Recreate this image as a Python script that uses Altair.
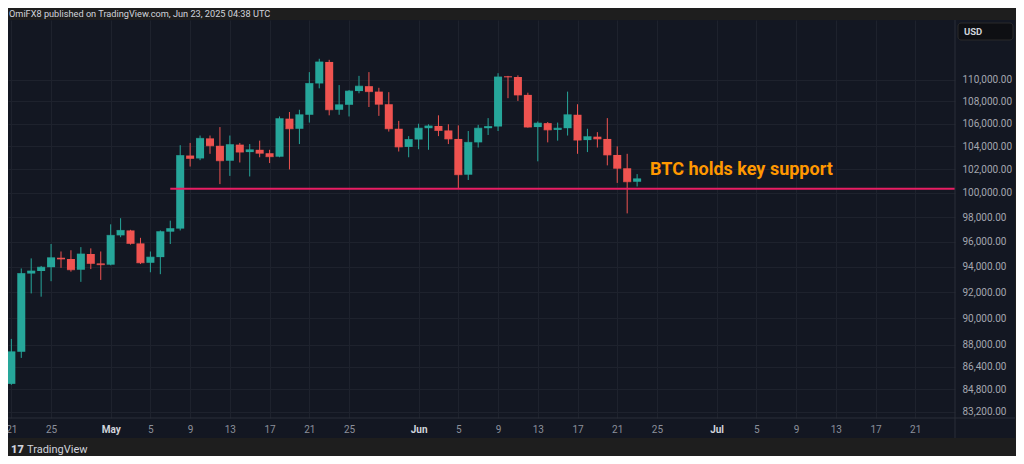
import altair as alt
import pandas as pd

# ---------------- data (BTC/USD daily) ----------------
dates = [d.strftime("%Y-%m-%d") for d in pd.date_range("2025-04-21", "2025-06-23", freq="D")]

opens = [85170, 87500, 93450, 93650, 93950, 94700, 94600, 93750, 95000, 94250,
         94150, 96500, 96900, 95850, 94300, 94750, 96800, 97050, 103200, 102950,
         104700, 104050, 102750, 104150, 103500, 103700, 103400, 103100, 106450, 105550,
         106800, 109650, 111650, 107250, 107700, 108950, 109400, 108900, 107750, 105550,
         103950, 104600, 105600, 105800, 105400, 104650, 101550, 104350, 105600, 105750,
         110300, 110250, 108600, 105700, 106050, 105450, 105600, 106800, 104550, 104850,
         104650, 103250, 102100, 100950]
highs = [88450, 93850, 94650, 94050, 95800, 95200, 95300, 95550, 95450, 95200,
         97400, 97900, 96950, 96300, 95200, 96900, 97700, 104100, 104300, 104950,
         104950, 105700, 104950, 104300, 104200, 104500, 103700, 106650, 107050, 107250,
         110700, 111950, 111850, 109500, 109050, 110350, 110700, 109250, 108850, 106250,
         104900, 106000, 105950, 106750, 105950, 105850, 105350, 105900, 106500, 110600,
         110350, 110400, 108800, 106200, 106150, 106100, 108900, 107750, 105550, 105250,
         106500, 104000, 103350, 101600]
lows = [85100, 87050, 91900, 91650, 92850, 93900, 93600, 92800, 93800, 92950,
        94100, 96350, 95750, 94200, 93550, 93400, 95800, 96900, 102250, 102800,
        103350, 100750, 101450, 102600, 101400, 103050, 102550, 103050, 102000, 104200,
        106100, 109200, 106750, 106800, 106650, 108750, 107500, 106700, 105300, 103550,
        103050, 103750, 103700, 104900, 104200, 100400, 101100, 103900, 105000, 105350,
        108300, 108050, 105650, 102700, 104350, 104500, 104950, 103350, 103500, 103900,
        102350, 100850, 98300, 100550]
closes = [87500, 93450, 93650, 93950, 94700, 94600, 93750, 95000, 94250, 94150,
          96500, 96900, 95850, 94300, 94750, 96800, 97050, 103200, 102950, 104700,
          104050, 102750, 104150, 103500, 103700, 103400, 103100, 106450, 105550, 106800,
          109650, 111650, 107250, 107700, 108950, 109400, 108900, 107750, 105550, 103950,
          104600, 105600, 105800, 105400, 104650, 101550, 104350, 105600, 105750, 110250,
          110250, 108600, 105700, 106050, 105450, 105600, 106800, 104550, 104850, 104650,
          103250, 102100, 100950, 101200]

# support line and annotation
support_start = ["2025-05-07"]
support_end = ["2025-07-31"]
support_level = [100350]
note_date = ["2025-06-24"]
note_price = [101950]
note_text = ["BTC holds key support"]

# axis tick labels
y_ticks = [110000, 108000, 106000, 104000, 102000, 100000, 98000, 96000,
           94000, 92000, 90000, 88000, 86400, 84800, 83200]
x_ticks = [(4, 21), (4, 25), (5, 1), (5, 5), (5, 9), (5, 13), (5, 17), (5, 21), (5, 25),
           (6, 1), (6, 5), (6, 9), (6, 13), (6, 17), (6, 21), (6, 25),
           (7, 1), (7, 5), (7, 9), (7, 13), (7, 17), (7, 21)]

header_text = ["OmiFX8 published on TradingView.com, Jun 23, 2025 04:38 UTC"]

# ---------------- styles ----------------
NAVY = "#131722"
FRAME = "#1e1e1e"
GRID = "#1e222d"
SEP = "#2a2e39"
TEAL = "#26a69a"
RED = "#ef5350"
PINK = "#e91e63"
ORANGE = "#ff9800"
FONT = "Roboto"

W, H = 947, 398

df = pd.DataFrame({"date": dates, "open": opens, "high": highs, "low": lows, "close": closes})

xscale = alt.Scale(
    type="utc",
    domain=[alt.DateTime(year=2025, month=4, date=21, hours=4, utc=True),
            alt.DateTime(year=2025, month=7, date=24, hours=12, utc=True)],
)
yscale = alt.Scale(type="log", domain=[82760, 115660], nice=False, zero=False)

xaxis = alt.Axis(
    values=[alt.DateTime(year=2025, month=m, date=d, utc=True) for m, d in x_ticks],
    labelExpr="utcdate(datum.value) == 1 ? utcFormat(datum.value, '%b') : '' + utcdate(datum.value)",
    labelFont=FONT, labelFontSize=10,
    labelColor={"condition": {"test": "utcdate(datum.value) == 1", "value": "#d1d4dc"}, "value": "#8c909b"},
    labelFontWeight={"condition": {"test": "utcdate(datum.value) == 1", "value": "bold"}, "value": "normal"},
    labelPadding=6, labelFlush=False, labelOverlap=False, labelBaseline="top",
    ticks=False, tickSize=0, domain=False, grid=True, gridColor=GRID, gridWidth=1,
    title=None,
)
yaxis = alt.Axis(
    orient="right", values=y_ticks, format=",.2f",
    labelFont=FONT, labelFontSize=10, labelColor="#a3a6af", labelPadding=7,
    labelOverlap=False, labelFlush=False,
    ticks=False, tickSize=0, domain=False, grid=True, gridColor=GRID, gridWidth=1,
    title=None,
)

X = alt.X("date:T", scale=xscale, axis=xaxis, title=None)
color = alt.condition("datum.close >= datum.open", alt.value(TEAL), alt.value(RED))

base = alt.Chart(df).encode(x=X, color=color)

wicks = base.mark_rule(strokeWidth=1, clip=True).encode(
    y=alt.Y("low:Q", scale=yscale, axis=yaxis, title=None), y2="high:Q")
bodies = base.mark_bar(size=8, clip=True).encode(
    y=alt.Y("open:Q", scale=yscale, axis=yaxis, title=None), y2="close:Q")
closeticks = base.mark_tick(thickness=1, size=8, clip=True, orient="horizontal").encode(
    y=alt.Y("close:Q", scale=yscale, axis=yaxis, title=None))

sup_df = pd.DataFrame({"start": support_start, "end": support_end, "level": support_level})
support = alt.Chart(sup_df).mark_rule(color=PINK, strokeWidth=2, clip=True).encode(
    x=alt.X("start:T", scale=xscale, axis=xaxis, title=None), x2="end:T",
    y=alt.Y("level:Q", scale=yscale, axis=yaxis, title=None))

note_df = pd.DataFrame({"date": note_date, "price": note_price, "label": note_text})
note = alt.Chart(note_df).mark_text(
    align="left", baseline="middle", dx=3, font=FONT, fontSize=18, fontWeight="bold", color=ORANGE
).encode(x=alt.X("date:T", scale=xscale, axis=xaxis, title=None),
         y=alt.Y("price:Q", scale=yscale, axis=yaxis, title=None), text="label:N")

one = pd.DataFrame({"t": header_text})

header_bg = alt.Chart(one).mark_rect(color=FRAME).encode(
    x=alt.value(0), x2=alt.value(1008), y=alt.value(-12), y2=alt.value(0))
footer_bg = alt.Chart(one).mark_rect(color=FRAME).encode(
    x=alt.value(0), x2=alt.value(1008), y=alt.value(H + 20), y2=alt.value(H + 38))
right_bg = alt.Chart(one).mark_rect(color=FRAME).encode(
    x=alt.value(1007), x2=alt.value(1008), y=alt.value(0), y2=alt.value(H + 20))
vsep = alt.Chart(one).mark_rule(color=SEP, strokeWidth=1).encode(
    x=alt.value(W), y=alt.value(0), y2=alt.value(H + 20))
hsep = alt.Chart(one).mark_rule(color=SEP, strokeWidth=1).encode(
    x=alt.value(0), x2=alt.value(1007), y=alt.value(H))

header = alt.Chart(one).mark_text(
    align="left", baseline="middle", font=FONT, fontSize=9.2, color="#d1d4dc"
).encode(x=alt.value(1), y=alt.value(-6.5), text="t:N")

usd_box = alt.Chart(one).mark_rect(color="#0e0f13", cornerRadius=3, stroke="#2a2a2a", strokeWidth=1).encode(
    x=alt.value(950), x2=alt.value(1005), y=alt.value(3), y2=alt.value(20))
usd_text = alt.Chart(pd.DataFrame({"t": ["USD"]})).mark_text(
    align="left", baseline="middle", font=FONT, fontSize=9.5, fontWeight="bold", color="#d1d4dc"
).encode(x=alt.value(956), y=alt.value(11.5), text="t:N")

logo = alt.Chart(pd.DataFrame({"t": ["17"]})).mark_text(
    align="left", baseline="middle", font=FONT, fontSize=11, fontWeight=900, color="#d1d4dc"
).encode(x=alt.value(3), y=alt.value(H + 32), text="t:N")
footer_text = alt.Chart(pd.DataFrame({"t": ["TradingView"]})).mark_text(
    align="left", baseline="middle", font=FONT, fontSize=11, color="#d1d4dc"
).encode(x=alt.value(19), y=alt.value(H + 32), text="t:N")

chart = alt.layer(
    header_bg, footer_bg, right_bg,
    wicks, bodies, closeticks, support, note,
    vsep, hsep, header, usd_box, usd_text, logo, footer_text,
).properties(
    width=W, height=H,
    autosize=alt.AutoSizeParams(type="none"),
    padding={"left": 0, "top": 12, "right": 61, "bottom": 38},
    background=NAVY,
).configure_view(stroke="transparent")

chart.save("out.html", embed_options={"renderer": "svg", "actions": False})
